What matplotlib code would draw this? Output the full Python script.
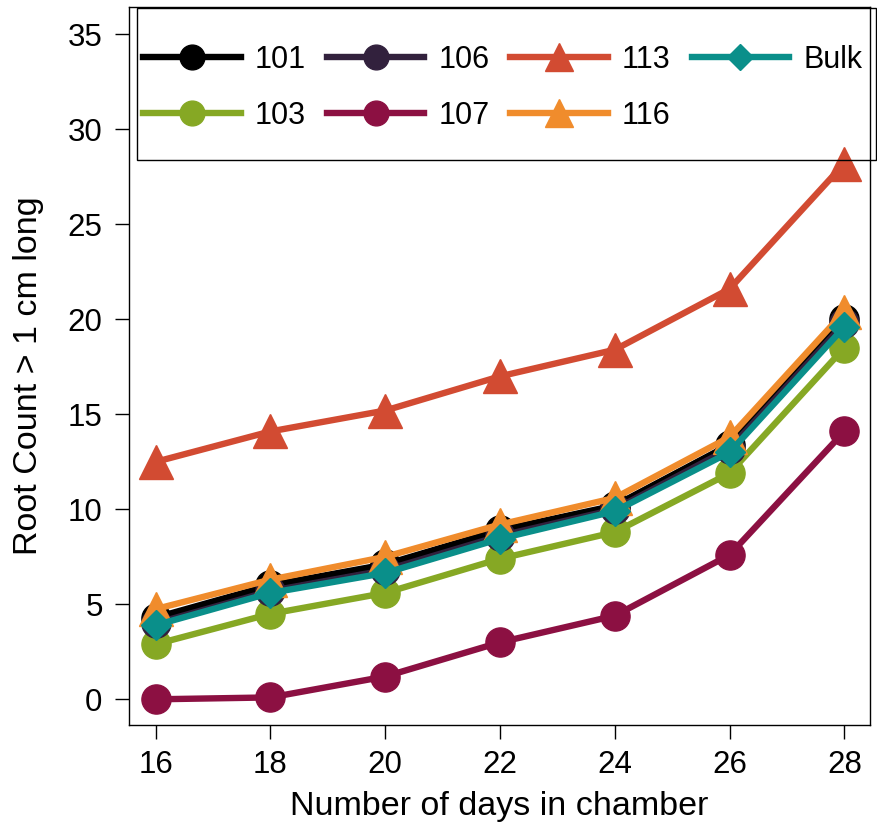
import matplotlib
matplotlib.use("Agg")
import matplotlib.pyplot as plt
from matplotlib.patches import Rectangle

days = [16, 18, 20, 22, 24, 26, 28]

root_101 = [4.3, 6.0, 7.1, 8.9, 10.2, 13.4, 20.0]
root_106 = [4.0, 5.7, 6.8, 8.6, 10.0, 13.2, 19.8]
root_113 = [12.5, 14.1, 15.2, 17.0, 18.4, 21.6, 28.2]
root_bulk = [3.9, 5.6, 6.65, 8.45, 9.9, 13.0, 19.6]
root_103 = [2.9, 4.5, 5.6, 7.4, 8.8, 11.9, 18.5]
root_107 = [0.0, 0.1, 1.2, 3.0, 4.4, 7.6, 14.1]
root_116 = [4.75, 6.3, 7.5, 9.2, 10.6, 13.8, 20.4]

plt.rcParams["font.family"] = ["Liberation Sans", "DejaVu Sans"]

fig = plt.figure(figsize=(8.77, 8.31), dpi=100)
ax = fig.add_axes([0.1471, 0.1276, 0.8453, 0.8640])

# (label, values, colour, marker, marker size) in drawing order
series = [
    ("101", root_101, "#000000", "o", 21),
    ("103", root_103, "#86a824", "o", 21),
    ("106", root_106, "#32213d", "o", 21),
    ("107", root_107, "#8c1042", "o", 21),
    ("113", root_113, "#d24b32", "^", 24),
    ("116", root_116, "#f08c2c", "^", 24),
    ("Bulk", root_bulk, "#0a8f8a", "D", 15),
]

handles = {}
for name, vals, col, mk, ms in series:
    (ln,) = ax.plot(days, vals, color=col, marker=mk, markersize=ms, lw=4.6,
                    label=name, clip_on=False)
    handles[name] = ln

ax.set_xlim(15.535, 28.453)
ax.set_ylim(-1.35, 36.44)
ax.set_xticks(days)
ax.set_yticks(range(0, 36, 5))
ax.tick_params(axis="both", direction="out", length=10, width=1, labelsize=22.5)
ax.tick_params(axis="x", pad=8)
ax.tick_params(axis="y", pad=9)
for sp in ax.spines.values():
    sp.set_linewidth(1)

ax.set_xlabel("Number of days in chamber", fontsize=24.5, labelpad=8)
ax.set_ylabel("Root Count > 1 cm long", fontsize=24.5)
ax.yaxis.set_label_coords(-0.115, 0.487)

# legend box drawn separately so it can span to the right edge
fig.patches.append(Rectangle((0.1562, 0.8075), 0.8425, 0.1829,
                             transform=fig.transFigure, fill=False,
                             edgecolor="black", lw=1))

order = ["101", "103", "106", "107", "113", "116", "Bulk"]
leg = fig.legend([handles[k] for k in order], order, ncol=4,
                 loc="center left", bbox_to_anchor=(0.163, 0.8941, 0.820, 0.0),
                 mode="expand", fontsize=22, frameon=False,
                 markerscale=0.85, handlelength=3.2,
                 borderpad=0, labelspacing=0.85, columnspacing=0.8,
                 handletextpad=0.45, borderaxespad=0)

fig.savefig("out.png", dpi=100)
